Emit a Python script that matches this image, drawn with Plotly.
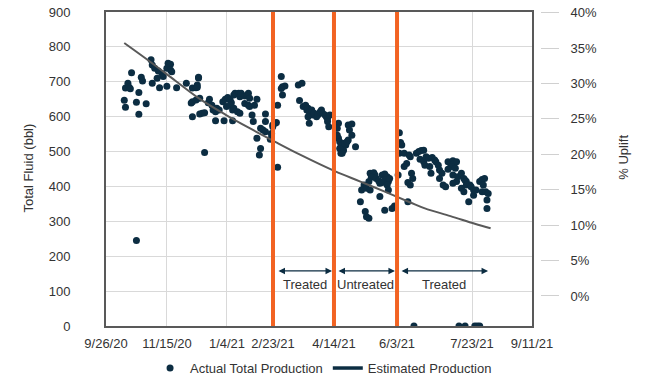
import plotly.graph_objects as go

# ---- Data (x = day index from 9/26/20 on the chart's axis) ----
actual_day = [15,16,16,18,19,20,21,25,25,27,27,29,30,33,37,
              38,40,43,46,47,42,51,53,50,53,54,
              38,44,50,58,66,71,74,76,70,71,71,77,77,
              76,75,75,74,85,84,87,88,91,90,79,81,90,97,93,
              96,98,100,102,103,99,102,104,
              105,106,109,110,111,114,116,117,118,114,117,118,
              105,108,110,104,120,121,124,122,131,127,129,131,124,131,127,126,81,136,137,139,141,
              144,145,147,144,145,141,140,137,136,135,
              158,161,159,
              162,164,165,166,167,169,170,171,173,174,176,177,178,180,181,182,184,182,183,166,167,
              191,189,191,192,193,195,193,197,199,
              199,202,200,202,205,194,195,192,194,196,198,190,190,
              217,220,221,218,222,224,225,227,229,231,229,227,232,233,231,216,212,210,214,217,225,232,209,213,214,216,229,235,237,
              240,
              241,242,243,241,245,249,250,247,245,251,252,248,248,250,
              255,257,259,261,258,261,263,265,268,270,271,262,266,267,273,274,276,274,277,279,
              281,283,285,286,288,284,287,281,285,289,288,292,294,295,296,292,294,296,299,300,302,298,
              307,309,311,310,309,312,313,313,302,304,285,314,
              253,290,295,303,305,307]
actual_bbl = [647,627,682,696,684,680,726,641,245,607,669,713,702,637,763,
              748,739,731,724,715,710,753,750,739,734,729,
              696,683,687,683,696,682,683,711,639,643,600,653,608,
              713,691,684,648,650,640,633,619,624,614,610,611,588,588,619,
              643,650,655,648,640,629,633,619,
              662,667,667,657,667,659,662,667,653,638,633,629,
              624,614,610,588,605,586,650,633,608,567,562,557,538,586,509,490,497,550,571,581,455,
              715,686,688,681,662,633,583,576,552,535,
              691,696,646,
              629,633,619,624,614,619,605,610,600,605,614,619,610,605,600,595,605,586,571,600,581,
              581,567,538,528,514,504,495,519,533,
              576,579,562,547,514,519,504,509,495,524,528,567,547,
              438,439,433,426,423,416,409,433,436,428,419,411,414,423,404,414,404,390,395,390,371,390,356,328,313,309,332,337,344,
              433,
              554,526,519,495,495,490,485,466,457,438,423,411,356,404,
              495,500,503,504,478,471,485,481,483,476,471,461,457,438,461,447,438,423,404,399,
              471,466,474,466,471,457,452,449,433,428,414,438,423,418,414,395,385,404,404,399,375,356,
              414,420,423,404,385,385,361,337,390,390,409,380,
              0,0,0,0,0,0]

est_day = [15,36,57,77,98,118,139,159,188,209,229,250,262,283,303,316]
est_bbl = [811,758,703,651,606,567,528,492,444,414,385,354,337,315,293,280]

tick_day = [0, 50.1, 99.4, 137.2, 187.3, 239.1, 300.7, 350]
tick_text = ["9/26/20", "11/15/20", "1/4/21", "2/23/21", "4/14/21", "6/3/21", "7/23/21", "9/11/21"]

treatment_day = [137.2, 187.3, 239.1]
period_start = [140.5, 189.8, 241.6]
period_end = [185.7, 237.4, 313.9]
period_label = ["Treated", "Untreated", "Treated"]
arrow_bbl = 158
label_bbl = 120

uplift_ticks = [0, 0.05, 0.10, 0.15, 0.20, 0.25, 0.30, 0.35, 0.40]

NAVY = "#0c2d42"
ORANGE = "#f26322"
TXT = "#333333"
FONT = "Liberation Sans, Arial, sans-serif"

fig = go.Figure()
fig.add_trace(go.Scatter(x=actual_day, y=actual_bbl, mode="markers",
                         marker=dict(size=7, color=NAVY),
                         name="Actual Total Production"))
fig.add_trace(go.Scatter(x=est_day, y=est_bbl, mode="lines",
                         line=dict(color="#595959", width=2, shape="spline"),
                         name="Estimated Production", showlegend=False))
# legend entry styled like the reference legend
fig.add_trace(go.Scatter(x=[None], y=[None], mode="lines",
                         line=dict(color=NAVY, width=3.5),
                         name="Estimated Production"))
# right axis (no data, ticks only)
fig.add_trace(go.Scatter(x=[None], y=[None], yaxis="y2", showlegend=False))

for d in treatment_day:
    fig.add_shape(type="line", xref="x", yref="paper", x0=d, x1=d, y0=0, y1=1,
                  line=dict(color=ORANGE, width=4), layer="above")

for s, e, lab in zip(period_start, period_end, period_label):
    fig.add_annotation(x=e, y=arrow_bbl, ax=s, ay=arrow_bbl, xref="x", yref="y",
                       axref="x", ayref="y", text="", showarrow=True,
                       arrowhead=2, arrowside="end+start", arrowsize=1,
                       arrowwidth=1.3, arrowcolor=NAVY)
    fig.add_annotation(x=(s + e) / 2, y=label_bbl, xref="x", yref="y", text=lab,
                       showarrow=False, font=dict(size=13, color=TXT, family=FONT))

fig.add_annotation(x=-0.196, y=0.503, xref="paper", yref="paper",
                   text="Total Fluid (bbl)", textangle=-90, showarrow=False,
                   font=dict(size=13, color=TXT, family=FONT))
fig.add_annotation(x=1.185, y=0.538, xref="paper", yref="paper",
                   text="% Uplift", textangle=-90, showarrow=False,
                   font=dict(size=13, color=TXT, family=FONT))

fig.update_layout(
    width=650, height=381,
    margin=dict(l=106, r=100, t=12, b=55, autoexpand=False),
    paper_bgcolor="white", plot_bgcolor="white",
    font=dict(family=FONT, size=13, color=TXT),
    xaxis=dict(domain=[0, 0.9595], range=[0, 350], tickvals=tick_day, ticktext=tick_text,
               showgrid=True, gridcolor="#d9d9d9", gridwidth=1, zeroline=False,
               showline=True, linecolor="#595959", linewidth=2, mirror=True,
               ticks="", ticklabelstandoff=4, automargin=False),
    yaxis=dict(range=[0, 900], dtick=100, showgrid=True, gridcolor="#d9d9d9",
               gridwidth=1, zeroline=False, showline=True, linecolor="#595959",
               linewidth=2, mirror=True, ticks="", ticklabelstandoff=31, automargin=False),
    yaxis2=dict(overlaying="y", side="right", anchor="free", position=0.9775,
                range=[-0.0424, 0.401], tickvals=uplift_ticks, tickformat=".0%",
                showgrid=False, zeroline=False, showline=False,
                ticks="outside", ticklen=18, tickcolor="#d0d0d0", tickwidth=1,
                ticklabelstandoff=9, automargin=False),
    legend=dict(orientation="h", x=0.49, xanchor="center", y=-0.134, yanchor="middle",
                font=dict(size=13, color=TXT, family=FONT), bgcolor="rgba(0,0,0,0)"),
    showlegend=True,
)

fig.write_html("out.html", config={"displayModeBar": False},
               post_script="document.body.style.margin='0';document.body.style.overflow='hidden';")
